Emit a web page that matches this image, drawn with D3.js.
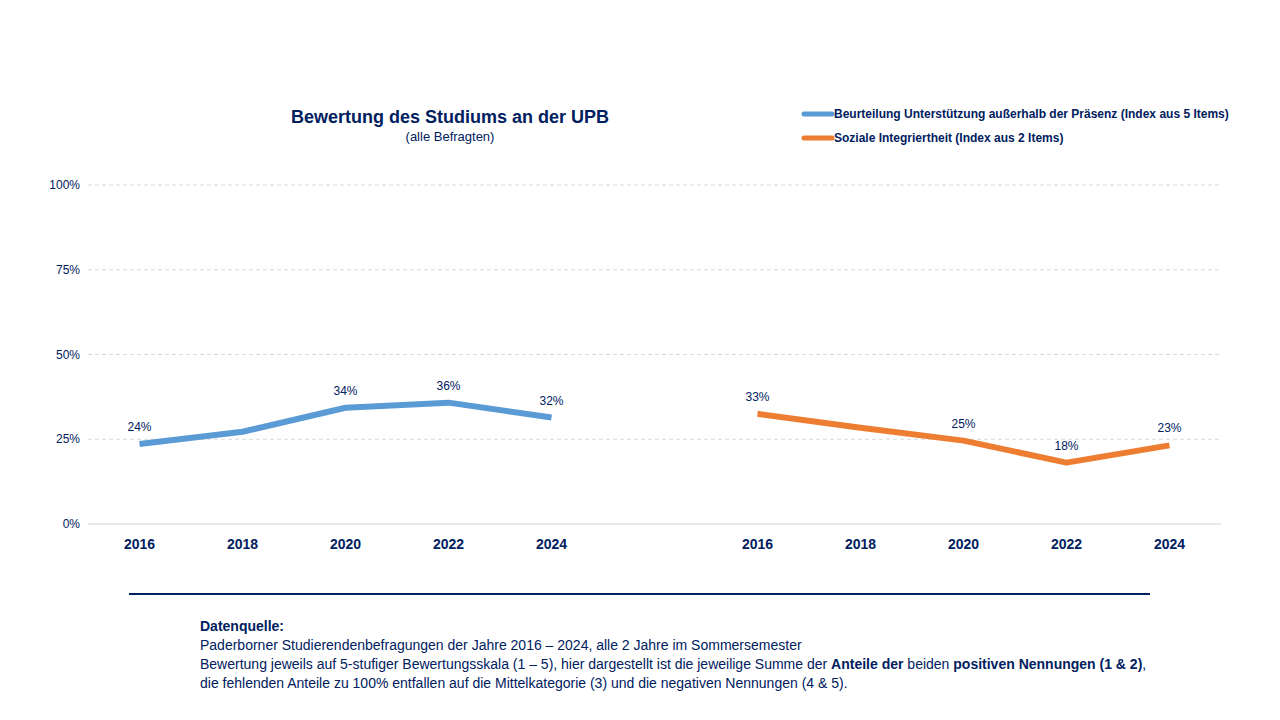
<!DOCTYPE html>
<html><head><meta charset="utf-8">
<script src="https://cdn.jsdelivr.net/npm/d3@7"></script>
<style>
body{margin:0;background:#fff;font-family:"Liberation Sans Narrow","Liberation Sans",Arial,sans-serif;}
</style></head><body>
<script>
// data
var years = ["2016", "2018", "2020", "2022", "2024"];
var slots = ["a2016","a2018","a2020","a2022","a2024","gap","b2016","b2018","b2020","b2022","b2024"];
var supportValues = [23.6, 27.2, 34.3, 35.8, 31.4];
var supportLabels = ["24%", "", "34%", "36%", "32%"];
var socialValues = [32.5, 28.4, 24.6, 18.1, 23.2];
var socialLabels = ["33%", "", "25%", "18%", "23%"];
var yTicks = [0, 25, 50, 75, 100];
var seriesNames = ["Beurteilung Unterstützung außerhalb der Präsenz (Index aus 5 Items)", "Soziale Integriertheit (Index aus 2 Items)"];
var colors = ["#5B9BD5", "#ED7D31"];
var navy = "#002060";

var svg = d3.select("body").append("svg").attr("width", 1280).attr("height", 720);

var x = d3.scaleBand().domain(slots).range([88, 1221]);
var y = d3.scaleLinear().domain([0, 100]).range([524, 185]);

// grid
svg.append("g").selectAll("line").data(yTicks).enter().append("line")
  .attr("x1", 88).attr("x2", 1221)
  .attr("y1", d => y(d)).attr("y2", d => y(d))
  .attr("stroke", d => d === 0 ? "#d0d0d0" : "#d9d9d9")
  .attr("stroke-dasharray", d => d === 0 ? null : "4,3");

svg.append("g").selectAll("text").data(yTicks).enter().append("text")
  .attr("x", 80).attr("y", d => y(d) + 4).attr("text-anchor", "end")
  .attr("font-size", 12).attr("fill", navy).text(d => d + "%");

// x labels
svg.append("g").selectAll("text").data(slots.filter(s => s !== "gap")).enter().append("text")
  .attr("x", d => x(d) + x.bandwidth() / 2).attr("y", 549).attr("text-anchor", "middle")
  .attr("font-size", 14).attr("font-weight", "bold").attr("fill", navy).text(d => d.slice(1));

function drawSeries(prefix, vals, labels, color) {
  var pts = years.map((yr, i) => ({ s: prefix + yr, v: vals[i], l: labels[i] }));
  var line = d3.line().x(d => x(d.s) + x.bandwidth() / 2).y(d => y(d.v));
  svg.append("path").datum(pts).attr("d", line).attr("fill", "none")
    .attr("stroke", color).attr("stroke-width", 6).attr("stroke-linejoin", "round");
  svg.append("g").selectAll("text").data(pts).enter().append("text")
    .attr("x", d => x(d.s) + x.bandwidth() / 2).attr("y", d => y(d.v) - 13)
    .attr("text-anchor", "middle").attr("font-size", 12).attr("fill", navy).text(d => d.l);
}
drawSeries("a", supportValues, supportLabels, colors[0]);
drawSeries("b", socialValues, socialLabels, colors[1]);

// title
svg.append("text").attr("x", 450).attr("y", 123).attr("text-anchor", "middle")
  .attr("font-size", 18).attr("font-weight", "bold").attr("fill", navy).text("Bewertung des Studiums an der UPB");
svg.append("text").attr("x", 450).attr("y", 141).attr("text-anchor", "middle")
  .attr("font-size", 13).attr("fill", navy).text("(alle Befragten)");

// legend
seriesNames.forEach(function(n, i) {
  var ly = 114 + i * 24;
  svg.append("line").attr("x1", 804).attr("x2", 832).attr("y1", ly).attr("y2", ly)
    .attr("stroke", colors[i]).attr("stroke-width", 5).attr("stroke-linecap", "round");
  svg.append("text").attr("x", 834).attr("y", ly + 4).attr("font-size", 12)
    .attr("font-weight", "bold").attr("fill", navy).text(n);
});

// separator
svg.append("line").attr("x1", 129).attr("x2", 1150).attr("y1", 594).attr("y2", 594)
  .attr("stroke", navy).attr("stroke-width", 2);

// source note
var note = svg.append("text").attr("font-size", 14).attr("fill", navy);
note.append("tspan").attr("x", 200).attr("y", 631).attr("font-weight", "bold").text("Datenquelle:");
note.append("tspan").attr("x", 200).attr("y", 650).text("Paderborner Studierendenbefragungen der Jahre 2016 – 2024,  alle 2 Jahre im Sommersemester");
var l3 = note.append("tspan").attr("x", 200).attr("y", 669);
l3.append("tspan").text("Bewertung jeweils auf 5-stufiger Bewertungsskala (1 – 5), hier dargestellt ist die jeweilige Summe der ");
l3.append("tspan").attr("font-weight", "bold").text("Anteile der");
l3.append("tspan").text(" beiden ");
l3.append("tspan").attr("font-weight", "bold").text("positiven Nennungen (1 & 2)");
l3.append("tspan").text(",");
note.append("tspan").attr("x", 200).attr("y", 688).text("die fehlenden Anteile zu 100% entfallen auf die Mittelkategorie (3) und die negativen Nennungen (4 & 5).");
</script>
</body></html>
